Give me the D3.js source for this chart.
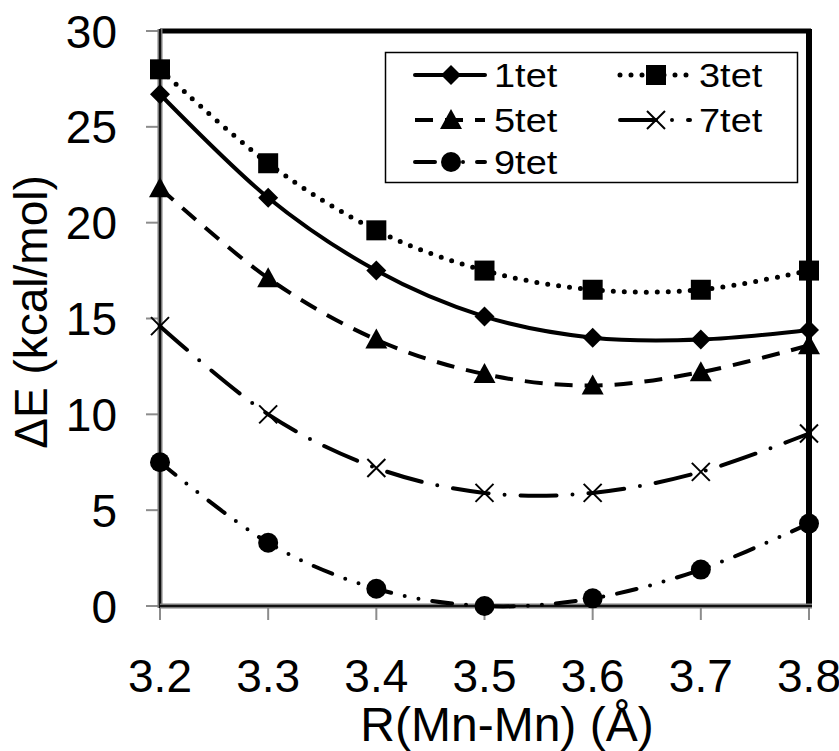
<!DOCTYPE html>
<html lang="en">
<head>
  <meta charset="UTF-8">
  <title>Delta E vs R(Mn-Mn)</title>
  <script src="https://d3js.org/d3.v7.min.js"></script>
  <style>
    body { margin: 0; background: #fff; }
    text { font-family: "Liberation Sans", Arial, sans-serif; fill: #000; }
  </style>
</head>
<body>
  <script>
    // data
    const distances = [3.2, 3.3, 3.4, 3.5, 3.6, 3.7, 3.8];
    const tet1 = [26.7, 21.3, 17.5, 15.1, 14.0, 13.9, 14.4];
    const tet3 = [28.0, 23.1, 19.6, 17.5, 16.5, 16.5, 17.5];
    const tet5 = [21.8, 17.1, 13.9, 12.1, 11.5, 12.2, 13.6];
    const tet7 = [14.6, 10.0, 7.2, 5.9, 5.9, 7.0, 9.0];
    const tet9 = [7.5, 3.3, 0.9, 0.0, 0.4, 1.9, 4.3];
    const seriesNames = ["1tet", "3tet", "5tet", "7tet", "9tet"];
    const yTicks = [0, 5, 10, 15, 20, 25, 30];

    const width = 839, height = 751;
    const margin = { top: 31, right: 30, bottom: 145, left: 160 };
    const w = 809 - margin.left, h = 606 - margin.top;

    const svg = d3.select("body").append("svg")
      .attr("width", width).attr("height", height);
    const g = svg.append("g").attr("transform", `translate(${margin.left},${margin.top})`);

    const x = d3.scaleLinear().domain([3.2, 3.8]).range([0, w]);
    const y = d3.scaleLinear().domain([0, 30]).range([h, 0]);

    // line styles + marker type per series
    const styles = {
      "1tet": { values: tet1, dash: null, marker: "diamond" },
      "3tet": { values: tet3, dash: "0 11", marker: "square", width: 5 },
      "5tet": { values: tet5, dash: "18 12", marker: "triangle", cap: "butt" },
      "7tet": { values: tet7, dash: "36 16 0 16", marker: "cross" },
      "9tet": { values: tet9, dash: "20 14 0 14 0 14", marker: "circle" }
    };

    function drawMarker(sel, type, cx, cy) {
      if (type === "diamond") {
        sel.append("path").attr("d", `M${cx},${cy - 10}L${cx + 10},${cy}L${cx},${cy + 10}L${cx - 10},${cy}Z`).attr("fill", "#000");
      } else if (type === "square") {
        sel.append("rect").attr("x", cx - 10).attr("y", cy - 10).attr("width", 20).attr("height", 20).attr("fill", "#000");
      } else if (type === "triangle") {
        sel.append("path").attr("d", `M${cx},${cy - 11}L${cx + 11},${cy + 9}L${cx - 11},${cy + 9}Z`).attr("fill", "#000");
      } else if (type === "cross") {
        sel.append("path").attr("d", `M${cx - 9},${cy - 9}L${cx + 9},${cy + 9}M${cx - 9},${cy + 9}L${cx + 9},${cy - 9}`)
          .attr("stroke", "#000").attr("stroke-width", 2);
      } else if (type === "circle") {
        sel.append("circle").attr("cx", cx).attr("cy", cy).attr("r", 10).attr("fill", "#000");
      }
    }

    // y ticks (gray)
    g.append("g").selectAll("line").data(yTicks).enter().append("line")
      .attr("x1", -14).attr("x2", 0)
      .attr("y1", d => y(d)).attr("y2", d => y(d))
      .attr("stroke", "#8c8c8c").attr("stroke-width", 2);
    g.append("g").selectAll("text").data(yTicks).enter().append("text")
      .attr("x", -43).attr("y", d => y(d))
      .attr("dy", "0.36em")
      .attr("text-anchor", "end")
      .style("font-size", "46px")
      .text(d => d);

    // x ticks
    g.append("g").selectAll("line").data(distances).enter().append("line")
      .attr("x1", d => x(d)).attr("x2", d => x(d))
      .attr("y1", h).attr("y2", h + 14)
      .attr("stroke", "#8c8c8c").attr("stroke-width", 2);
    g.append("g").selectAll("text").data(distances).enter().append("text")
      .attr("x", d => x(d)).attr("y", h + 86)
      .attr("text-anchor", "middle")
      .style("font-size", "46px")
      .text(d => d.toFixed(1));

    // frame: top + right black, left + bottom axes gray w/ dark core
    g.append("line").attr("x1", 0).attr("x2", w + 2).attr("y1", 0).attr("y2", 0)
      .attr("stroke", "#000").attr("stroke-width", 5);
    g.append("line").attr("x1", w).attr("x2", w).attr("y1", -2).attr("y2", h)
      .attr("stroke", "#000").attr("stroke-width", 6);
    g.append("line").attr("x1", 0).attr("x2", 0).attr("y1", -2).attr("y2", h + 2)
      .attr("stroke", "#7a7a7a").attr("stroke-width", 5);
    g.append("line").attr("x1", 0).attr("x2", 0).attr("y1", -2).attr("y2", h + 2)
      .attr("stroke", "#111").attr("stroke-width", 2);
    g.append("line").attr("x1", 0).attr("x2", w + 3).attr("y1", h).attr("y2", h)
      .attr("stroke", "#7a7a7a").attr("stroke-width", 5);
    g.append("line").attr("x1", 0).attr("x2", w + 3).attr("y1", h).attr("y2", h)
      .attr("stroke", "#111").attr("stroke-width", 2);

    // series
    const line = d3.line()
      .x((d, i) => x(distances[i]))
      .y(d => y(d))
      .curve(d3.curveCatmullRom.alpha(0));

    seriesNames.forEach(name => {
      const s = styles[name];
      g.append("path")
        .datum(s.values)
        .attr("d", line)
        .attr("fill", "none")
        .attr("stroke", "#000")
        .attr("stroke-width", s.width || 4)
        .attr("stroke-linecap", s.cap || "round")
        .attr("stroke-dasharray", s.dash);
      const mg = g.append("g");
      s.values.forEach((v, i) => drawMarker(mg, s.marker, x(distances[i]), y(v)));
    });

    // legend
    const legend = svg.append("g");
    legend.append("rect")
      .attr("x", 385.5).attr("y", 52.5).attr("width", 412).attr("height", 130)
      .attr("fill", "#fff").attr("stroke", "#000").attr("stroke-width", 1.5);
    const legendPos = {
      "1tet": [415, 75], "3tet": [620, 75],
      "5tet": [415, 120], "7tet": [620, 120],
      "9tet": [415, 162]
    };
    seriesNames.forEach(name => {
      const s = styles[name];
      const [lx, ly] = legendPos[name];
      legend.append("line")
        .attr("x1", lx).attr("x2", lx + 70).attr("y1", ly).attr("y2", ly)
        .attr("stroke", "#000")
        .attr("stroke-width", s.width || 4)
        .attr("stroke-linecap", s.cap || "round")
        .attr("stroke-dasharray", s.dash);
      drawMarker(legend, s.marker, lx + 36, ly);
      legend.append("text")
        .attr("transform", `translate(${lx + 79},${ly}) scale(1.15,1)`)
        .attr("dy", "0.36em")
        .style("font-size", "33px")
        .text(name);
    });

    // axis titles
    svg.append("text")
      .attr("x", 507).attr("y", 741)
      .attr("text-anchor", "middle")
      .style("font-size", "48px")
      .text("R(Mn-Mn) (Å)");
    svg.append("text")
      .attr("transform", "translate(47,312) rotate(-90)")
      .attr("text-anchor", "middle")
      .style("font-size", "46px")
      .text("ΔE (kcal/mol)");
  </script>
</body>
</html>
